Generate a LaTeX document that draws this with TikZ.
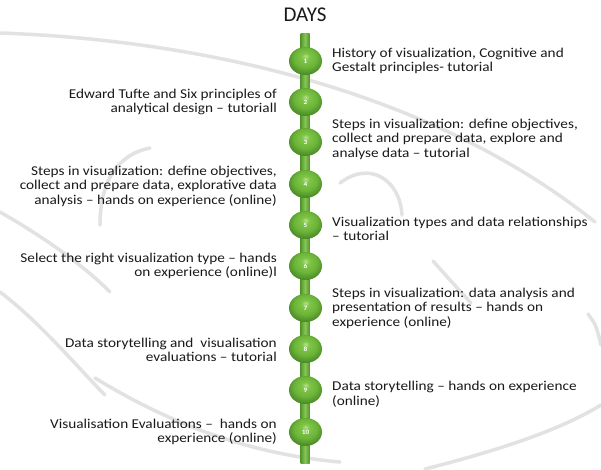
\documentclass[tikz,border=0pt]{standalone}
\usepackage{fontspec}
\setmainfont{Carlito}
\newfontfamily\bodyfont{Carlito}[FakeStretch=1.13,Ligatures=TeX]
\usetikzlibrary{shapes.geometric,calc}
\definecolor{barmid}{HTML}{86C653}
\definecolor{baredge}{HTML}{55962D}
\definecolor{ballhi}{HTML}{B4E288}
\definecolor{ballmid}{HTML}{7EC447}
\definecolor{ballmain}{HTML}{6DB63A}
\definecolor{balldark}{HTML}{4A8A26}
\definecolor{swooshgray}{HTML}{E2E2E2}
\definecolor{txt}{HTML}{1A1A1A}
\pgfdeclareradialshading{greenball}{\pgfpoint{0bp}{9bp}}{color(0bp)=(ballhi); color(6bp)=(ballmid); color(17bp)=(ballmain); color(28bp)=(balldark); color(50bp)=(balldark)}
\tikzset{
  dayball/.style={ellipse, minimum width=33pt, minimum height=28pt, inner sep=0pt,
    shading=greenball, draw=none, text=white,
    font=\bodyfont\fontsize{6.5}{7}\selectfont\bfseries},
  righttext/.style={anchor=west, align=left, inner sep=0pt, text=txt,
    font=\bodyfont\fontsize{13.5}{14.5}\selectfont},
  lefttext/.style={anchor=east, align=right, inner sep=0pt, text=txt,
    font=\bodyfont\fontsize{13.5}{14.5}\selectfont},
  swoosh/.style={draw=swooshgray, line width=3.5pt, line cap=round}
}
\begin{document}
\begin{tikzpicture}[x=1pt,y=-1pt]
\fill[white] (0,0) rectangle (601,469);
\useasboundingbox (0,0) rectangle (601,469);
% background watermark swooshes
\draw[swoosh] (0,33) .. controls (200,40) and (430,90) .. (595,222);
\draw[swoosh] (150,148) .. controls (115,155) and (100,185) .. (100,225);
\draw[swoosh] (340,183) .. controls (370,160) and (400,180) .. (402,215);
\draw[swoosh] (0,212) .. controls (40,235) and (80,262) .. (110,292);
\draw[swoosh] (0,292) .. controls (40,322) and (80,370) .. (105,395);
\draw[swoosh] (95,378) .. controls (180,430) and (260,455) .. (340,462);
\draw[swoosh] (433,261) .. controls (450,280) .. (471,303);
\draw[swoosh] (425,469) .. controls (500,450) and (560,430) .. (601,405);
\draw[swoosh] (588,314) .. controls (596,325) .. (601,345);
% title
\node[text=txt, font=\fontsize{21}{24}\selectfont] (title) at (305,15) {DAYS};
% timeline bar
\coordinate (bartop) at (305,33);
\coordinate (barbot) at (305,463);
\path[left color=baredge, right color=baredge, middle color=barmid]
  ($(bartop)+(-4.5,0)$) rectangle ($(barbot)+(4.5,0)$);
% balls
\foreach \n/\y in {1/61,2/102,3/142,4/184,5/225,6/266,7/308,8/349,9/390,10/432}
  \node[dayball] (b\n) at (305.5,\y) {\n};
% right texts
\node[righttext] (t1) at (332,61) {History of visualization, Cognitive and\\Gestalt principles- tutorial};
\node[righttext] (t3) at (332,139) {Steps in visualization: define objectives,\\collect and prepare data, explore and\\analyse data – tutorial};
\node[righttext] (t5) at (332,229) {Visualization types and data relationships\\– tutorial};
\node[righttext] (t7) at (332,308) {Steps in visualization: data analysis and\\presentation of results – hands on\\experience (online)};
\node[righttext] (t9) at (332,394) {Data storytelling – hands on experience\\(online)};
% left texts
\node[lefttext] (t2) at (277,102) {Edward Tufte and Six principles of\\analytical design – tutoriall};
\node[lefttext] (t4) at (277,186) {Steps in visualization: define objectives,\\collect and prepare data, explorative data\\analysis – hands on experience (online)};
\node[lefttext] (t6) at (277,266) {Select the right visualization type – hands\\on experience (online)l};
\node[lefttext] (t8) at (277,350) {Data storytelling and\ \ visualisation\\evaluations – tutorial};
\node[lefttext] (t10) at (277,432) {Visualisation Evaluations –\ \ hands on\\experience (online)};
\end{tikzpicture}
\end{document}
